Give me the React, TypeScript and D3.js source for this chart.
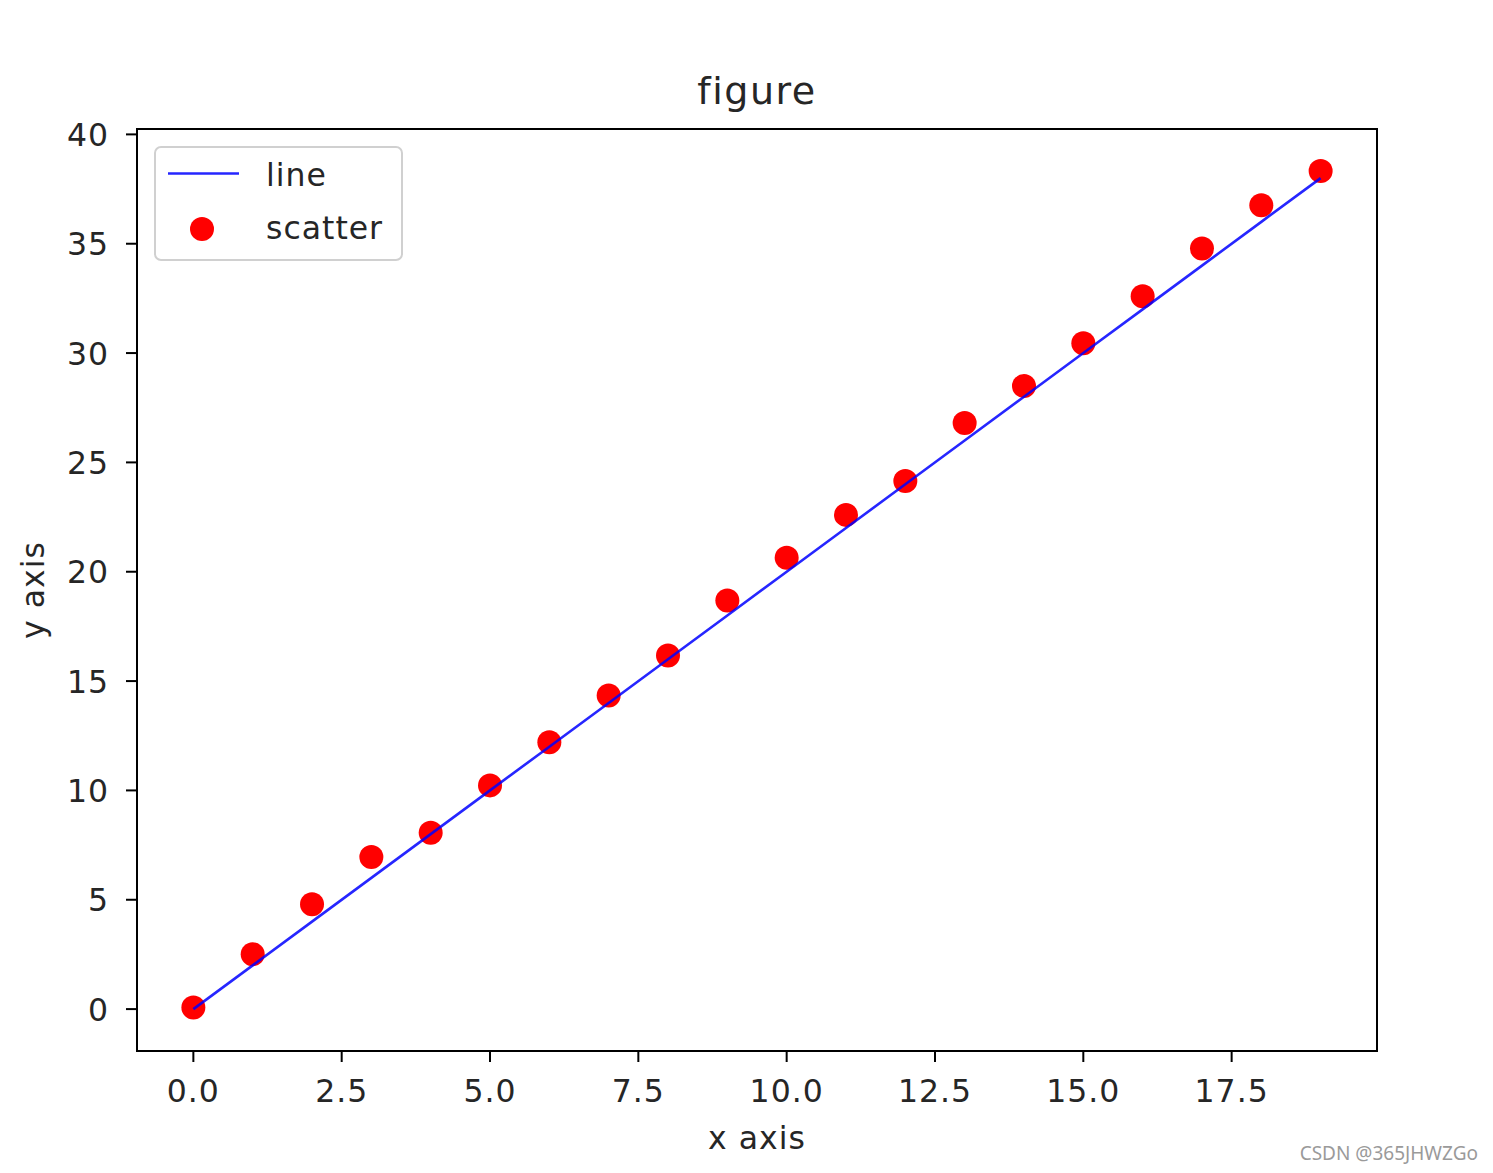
import React from "react";
import * as d3 from "d3";

const xValues: number[] = [0, 1, 2, 3, 4, 5, 6, 7, 8, 9, 10, 11, 12, 13, 14, 15, 16, 17, 18, 19];
const lineValues: number[] = [0, 2, 4, 6, 8, 10, 12, 14, 16, 18, 20, 22, 24, 26, 28, 30, 32, 34, 36, 38];
const scatterValues: number[] = [0.07, 2.51, 4.79, 6.96, 8.06, 10.23, 12.2, 14.34, 16.17, 18.68, 20.64, 22.6, 24.15, 26.8, 28.49, 30.45, 32.6, 34.78, 36.76, 38.33];
const xTicks: number[] = [0, 2.5, 5, 7.5, 10, 12.5, 15, 17.5];
const yTicks: number[] = [0, 5, 10, 15, 20, 25, 30, 35, 40];

const W = 1493;
const H = 1173;
const left = 137;
const right = 1377;
const top = 129;
const bottom = 1051;
const FONT = "DejaVu Sans, sans-serif";
const FS = 31.5;
const LS = 1;

export default function App() {
  const xMin = d3.min(xValues)!;
  const xMax = d3.max(xValues)!;
  const yMin = Math.min(d3.min(lineValues)!, d3.min(scatterValues)!);
  const yMax = Math.max(d3.max(lineValues)!, d3.max(scatterValues)!);
  const xm = (xMax - xMin) * 0.05;
  const ym = (yMax - yMin) * 0.05;
  const x = d3.scaleLinear().domain([xMin - xm, xMax + xm]).range([left, right]);
  const y = d3.scaleLinear().domain([yMin - ym, yMax + ym]).range([bottom, top]);

  const lineGen = d3
    .line<number>()
    .x((_, i) => x(xValues[i]))
    .y((d) => y(d));

  const cx = (left + right) / 2;
  const cy = (top + bottom) / 2;

  return (
    <svg
      width={W}
      height={H}
      style={{ position: "absolute", left: 0, top: 0, background: "#fff" }}
      fontFamily={FONT}
    >
      <rect x={0} y={0} width={W} height={H} fill="#fff" />
      <g>
        {scatterValues.map((v, i) => (
          <circle key={i} cx={x(xValues[i])} cy={y(v)} r={12} fill="#ff0000" />
        ))}
        <path d={lineGen(lineValues) || ""} fill="none" stroke="#0000ff" strokeWidth={2.6} opacity={0.85} />
      </g>
      <rect x={left} y={top} width={right - left} height={bottom - top} fill="none" stroke="#000" strokeWidth={2} />
      {xTicks.map((t) => (
        <g key={"x" + t}>
          <line x1={x(t)} x2={x(t)} y1={bottom} y2={bottom + 11} stroke="#000" strokeWidth={2} />
          <text x={x(t)} y={1102} textAnchor="middle" fontSize={FS} letterSpacing={LS} fill="#262626">
            {t.toFixed(1)}
          </text>
        </g>
      ))}
      {yTicks.map((t) => (
        <g key={"y" + t}>
          <line x1={left - 11} x2={left} y1={y(t)} y2={y(t)} stroke="#000" strokeWidth={2} />
          <text x={left - 28} y={y(t) + 11.5} textAnchor="end" fontSize={FS} letterSpacing={LS} fill="#262626">
            {t}
          </text>
        </g>
      ))}
      <text x={cx} y={104} textAnchor="middle" fontSize={38} letterSpacing={1.5} fill="#262626">
        figure
      </text>
      <text x={cx} y={1149} textAnchor="middle" fontSize={FS} letterSpacing={LS} fill="#262626">
        x axis
      </text>
      <text
        x={0}
        y={0}
        transform={`translate(44, ${cy}) rotate(-90)`}
        textAnchor="middle"
        fontSize={FS}
        letterSpacing={LS}
        fill="#262626"
      >
        y axis
      </text>
      <g>
        <rect x={155} y={147} width={247} height={113} rx={6} ry={6} fill="#fff" fillOpacity={0.8} stroke="#d0d0d0" strokeWidth={2} />
        <line x1={168} x2={239} y1={173.5} y2={173.5} stroke="#0000ff" strokeWidth={2.6} opacity={0.85} />
        <circle cx={202} cy={229} r={12} fill="#ff0000" />
        <text x={266} y={186} fontSize={FS} letterSpacing={LS} fill="#262626">line</text>
        <text x={266} y={239} fontSize={FS} letterSpacing={LS} fill="#262626">scatter</text>
      </g>
      <text x={1478} y={1160} textAnchor="end" fontSize={19} fill="#9a9a9a" fontFamily="Noto Sans, sans-serif">
        CSDN @365JHWZGo
      </text>
    </svg>
  );
}
